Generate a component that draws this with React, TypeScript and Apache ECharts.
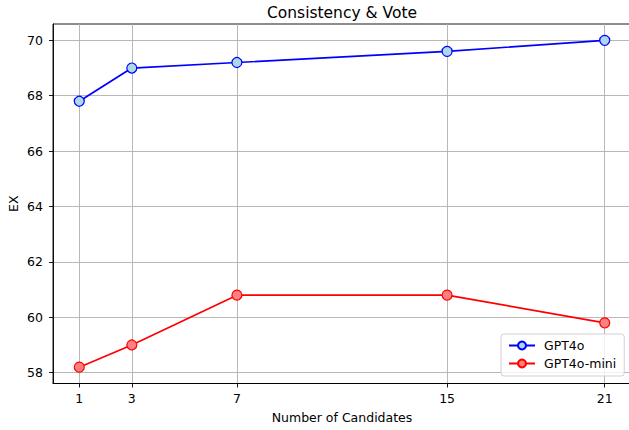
import React, { useEffect, useRef } from "react";
import * as echarts from "echarts";

const candidates = [1, 3, 7, 15, 21];
const gpt4o = [67.8, 69.0, 69.2, 69.6, 70.0];
const gpt4oMini = [58.2, 59.0, 60.8, 60.8, 59.8];
const yTicks = [58, 60, 62, 64, 66, 68, 70];

const FONT = "DejaVu Sans";

export default function App() {
  const ref = useRef<HTMLDivElement>(null);
  useEffect(() => {
    document.body.style.margin = "0";
    const chart = echarts.init(ref.current!, undefined, { renderer: "svg" });
    const axisText = { fontFamily: FONT, fontSize: 12.5, color: "#000" };
    chart.setOption({
      animation: false,
      backgroundColor: "#fff",
      title: {
        text: "Consistency & Vote",
        left: 342,
        top: 5,
        padding: 0,
        textAlign: "center",
        textStyle: { fontFamily: FONT, fontSize: 15.5, fontWeight: "normal", color: "#000" },
      },
      grid: {
        left: 53,
        top: 24,
        width: 578,
        height: 359.5,
        containLabel: false,
        outerBoundsMode: "none",
        show: true,
        borderColor: "#000",
        borderWidth: 0.9,
        backgroundColor: "transparent",
      },
      legend: {
        orient: "vertical",
        left: 501,
        top: 334,
        padding: [5, 8, 6, 7],
        itemGap: 5,
        itemWidth: 26,
        itemHeight: 10,
        backgroundColor: "rgba(255,255,255,0.8)",
        borderColor: "#cccccc",
        borderWidth: 0.9,
        borderRadius: 3,
        textStyle: { fontFamily: FONT, fontSize: 12.5, color: "#000", padding: [0, 0, 0, 4] },
        data: ["GPT4o", "GPT4o-mini"],
      },
      xAxis: {
        type: "value",
        min: 0,
        max: 22,
        name: "Number of Candidates",
        nameLocation: "middle",
        nameGap: 27,
        nameMoveOverlap: false,
        nameTextStyle: axisText,
        axisLine: { show: true, onZero: false, lineStyle: { color: "#000", width: 0.9 } },
        axisTick: { show: true, length: 4, lineStyle: { color: "#000", width: 0.9 }, customValues: candidates },
        axisLabel: { ...axisText, margin: 8, customValues: candidates },
        splitLine: { show: true, lineStyle: { color: "#b0b0b0", width: 0.9 } },
      },
      yAxis: {
        type: "value",
        min: 57.61,
        max: 70.59,
        name: "EX",
        nameLocation: "middle",
        nameGap: 33,
        nameRotate: 90,
        nameMoveOverlap: false,
        nameTextStyle: axisText,
        axisLine: { show: true, onZero: false, lineStyle: { color: "#000", width: 0.9 } },
        axisTick: { show: true, length: 4, lineStyle: { color: "#000", width: 0.9 }, customValues: yTicks },
        axisLabel: { ...axisText, margin: 10, customValues: yTicks },
        splitLine: { show: true, lineStyle: { color: "#b0b0b0", width: 0.9 } },
      },
      series: [
        {
          name: "GPT4o",
          type: "line",
          data: candidates.map((c, i) => [c, gpt4o[i]]),
          symbol: "circle",
          symbolSize: 10,
          lineStyle: { color: "#0000ff", width: 1.7 },
          itemStyle: { color: "#add8e6", borderColor: "#0000ff", borderWidth: 1.2 },
        },
        {
          name: "GPT4o-mini",
          type: "line",
          data: candidates.map((c, i) => [c, gpt4oMini[i]]),
          symbol: "circle",
          symbolSize: 10,
          lineStyle: { color: "#ff0000", width: 1.7 },
          itemStyle: { color: "#ff8080", borderColor: "#ff0000", borderWidth: 1.2 },
        },
      ],
    });
    return () => chart.dispose();
  }, []);
  return <div ref={ref} style={{ width: 629, height: 430 }} />;
}
